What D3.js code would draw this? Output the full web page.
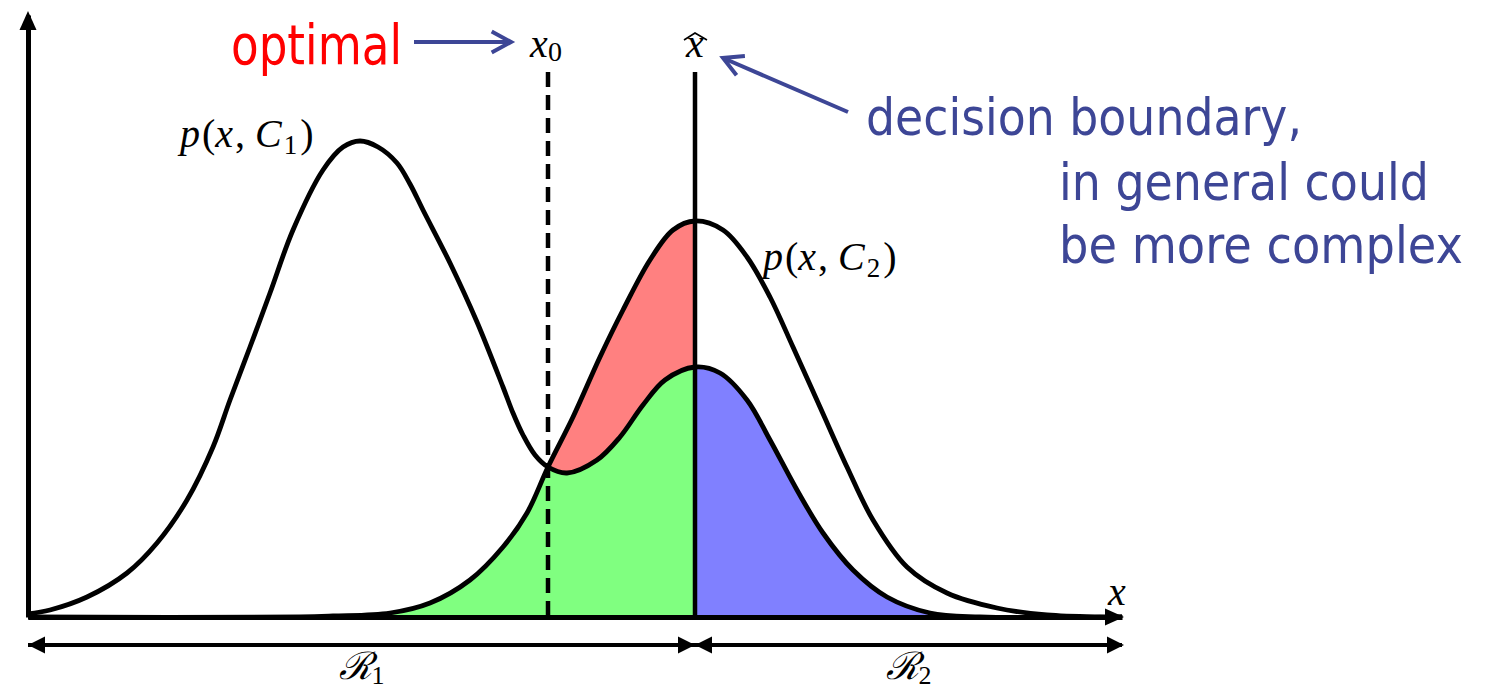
<!DOCTYPE html>
<html>
<head>
<meta charset="utf-8">
<script src="https://cdn.jsdelivr.net/npm/d3@7"></script>
<style>
  body { margin: 0; background: #fff; }
  svg { display: block; }
  .math { font-family: "Liberation Serif", "DejaVu Serif", serif; fill: #000; }
  .note { font-family: "DejaVu Sans", sans-serif; }
</style>
</head>
<body>
<script>

// SVG size
const w = 1485;
const h = 692;

// p(x, C1): samples (x position, density)
const c1X = [0, 0.22, 0.59, 0.99, 1.29, 1.59, 1.85, 2.02, 2.22, 2.42, 2.65, 2.95, 3.15, 3.32,
             3.50, 3.69, 3.82, 3.95, 4.22, 4.49, 4.75, 4.85, 4.95, 5.07, 5.20, 5.39, 5.69, 5.92,
             6.15, 6.37, 6.67, 6.92, 7.19, 7.42, 7.69, 7.95, 8.25, 8.59, 9.02, 9.52, 10.94];
const c1Y = [0.03, 0.07, 0.20, 0.44, 0.74, 1.17, 1.70, 2.17, 2.70, 3.24, 3.87, 4.47, 4.70, 4.76,
             4.70, 4.54, 4.33, 4.07, 3.54, 2.95, 2.30, 2.04, 1.82, 1.62, 1.50, 1.44, 1.57, 1.80,
             2.12, 2.37, 2.50, 2.44, 2.17, 1.77, 1.27, 0.84, 0.47, 0.20, 0.04, 0, 0];

// p(x, C2)
const c2X = [0, 2.72, 3.05, 3.62, 4.02, 4.42, 4.75, 4.99, 5.20, 5.45, 5.72, 5.95, 6.22,
             6.45, 6.67, 6.95, 7.19, 7.42, 7.65, 7.92, 8.19, 8.45, 8.79, 9.19, 9.69, 10.19,
             10.72, 10.94];
const c2Y = [0, 0, 0.01, 0.04, 0.14, 0.37, 0.70, 1.04, 1.50, 2.00, 2.60, 3.07, 3.57,
             3.87, 3.96, 3.87, 3.60, 3.20, 2.70, 2.10, 1.50, 0.97, 0.50, 0.24, 0.09, 0.02,
             0, 0];

// boundaries
const x0Val = 5.20;     // optimal
const xHatVal = 6.67;   // chosen boundary
const xMax = 10.94;
const yMax = 6.02;

const c1 = c1X.map((x, i) => ({ x: x, y: c1Y[i] }));
const c2 = c2X.map((x, i) => ({ x: x, y: c2Y[i] }));

// scales
const xScale = d3.scaleLinear().domain([0, xMax]).range([28, 1122]);
const yScale = d3.scaleLinear().domain([0, yMax]).range([617, 15]);

const svg = d3.select("body")
    .append("svg")
    .attr("width", w)
    .attr("height", h);

const curve = d3.curveCatmullRom.alpha(0.5);

const line = d3.line()
    .x(d => xScale(d.x))
    .y(d => yScale(d.y))
    .curve(curve);

const area = d3.area()
    .x(d => xScale(d.x))
    .y0(yScale(0))
    .y1(d => yScale(d.y))
    .curve(curve);

// clip strips for the coloured regions
const defs = svg.append("defs");
function clip(id, a, b) {
    defs.append("clipPath").attr("id", id)
        .append("rect")
        .attr("x", xScale(a))
        .attr("y", 0)
        .attr("width", xScale(b) - xScale(a))
        .attr("height", yScale(0));
}
clip("clipL", 0, x0Val);
clip("clipM", x0Val, xHatVal);
clip("clipR", xHatVal, xMax);

// red between the curves, green below, blue right of the boundary
svg.append("path").datum(c2).attr("d", area)
    .attr("fill", "#ff8080").attr("clip-path", "url(#clipM)");
svg.append("path").datum(c1).attr("d", area)
    .attr("fill", "#80ff80").attr("clip-path", "url(#clipM)");
svg.append("path").datum(c2).attr("d", area)
    .attr("fill", "#80ff80").attr("clip-path", "url(#clipL)");
svg.append("path").datum(c1).attr("d", area)
    .attr("fill", "#8080ff").attr("clip-path", "url(#clipR)");

// curves
[c1, c2].forEach(c => {
    svg.append("path")
        .datum(c)
        .attr("d", line)
        .attr("fill", "none")
        .attr("stroke", "#000")
        .attr("stroke-width", 4.8);
});

// x0 dashed line and x-hat solid line
const lineTop = 72;
svg.append("line")
    .attr("x1", xScale(x0Val)).attr("x2", xScale(x0Val))
    .attr("y1", lineTop).attr("y2", yScale(0))
    .attr("stroke", "#000")
    .attr("stroke-width", 4.5)
    .attr("stroke-dasharray", "15,8");

svg.append("line")
    .attr("x1", xScale(xHatVal)).attr("x2", xScale(xHatVal))
    .attr("y1", lineTop).attr("y2", yScale(0))
    .attr("stroke", "#000")
    .attr("stroke-width", 4.5);

// axes
const xAxis = svg.append("g")
    .attr("transform", `translate(0, ${yScale(0)})`)
    .call(d3.axisBottom(xScale).ticks(0).tickSizeOuter(0));
const yAxis = svg.append("g")
    .attr("transform", `translate(${xScale(0)}, 0)`)
    .call(d3.axisLeft(yScale).ticks(0).tickSizeOuter(0));
[xAxis, yAxis].forEach(a => a.select(".domain").attr("stroke", "#000").attr("stroke-width", 5));

// arrowheads
function head(x, y, dir, len, half) {
    let p;
    if (dir === "r") p = [[x, y], [x - len, y - half], [x - len, y + half]];
    if (dir === "l") p = [[x, y], [x + len, y - half], [x + len, y + half]];
    if (dir === "u") p = [[x, y], [x - half, y + len], [x + half, y + len]];
    svg.append("path")
        .attr("d", "M" + p.map(q => q.join(",")).join("L") + "Z")
        .attr("fill", "#000");
}
head(xScale(0), 11, "u", 19, 8.5);
head(xScale(xMax) + 2, yScale(0), "r", 19, 8.5);

// region arrows below the axis
const ry = 645;
svg.append("line")
    .attr("x1", xScale(0)).attr("x2", xScale(xMax))
    .attr("y1", ry).attr("y2", ry)
    .attr("stroke", "#000").attr("stroke-width", 4);
head(xScale(0), ry, "l", 17, 8.5);
head(xScale(xHatVal), ry, "r", 17, 8.5);
head(xScale(xHatVal), ry, "l", 17, 8.5);
head(xScale(xMax) + 2, ry, "r", 17, 8.5);

// region labels
function regionLabel(cx, sub) {
    const t = svg.append("text")
        .attr("class", "math")
        .attr("x", cx)
        .attr("y", 679)
        .attr("text-anchor", "middle")
        .attr("font-size", 38);
    t.append("tspan").attr("font-family", "DejaVu Serif").attr("font-style", "italic").text("\u211B");
    t.append("tspan").attr("font-size", 26).attr("dy", 5).text(sub);
}
regionLabel(xScale(xHatVal / 2), "1");
regionLabel(xScale((xHatVal + xMax) / 2), "2");

// p(x, C_k) labels
function pLabel(x, y, sub) {
    const t = svg.append("text")
        .attr("class", "math")
        .attr("x", x)
        .attr("y", y)
        .attr("font-size", 40);
    t.append("tspan").attr("font-style", "italic").text("p");
    t.append("tspan").attr("dx", 2).text("(");
    t.append("tspan").attr("font-style", "italic").text("x");
    t.append("tspan").attr("dx", 2).text(",");
    t.append("tspan").attr("dx", 10).attr("font-style", "italic").text("C");
    t.append("tspan").attr("font-size", 27).attr("dy", 7).attr("dx", 2).text(sub);
    t.append("tspan").attr("dy", -7).attr("dx", 3).text(")");
}
pLabel(180, 147, "1");
pLabel(763, 270, "2");

// axis variable
svg.append("text")
    .attr("class", "math")
    .attr("x", xScale(xMax) - 5)
    .attr("y", 605)
    .attr("text-anchor", "middle")
    .attr("font-size", 40)
    .attr("font-style", "italic")
    .text("x");

// x0 label
const x0Label = svg.append("text")
    .attr("class", "math")
    .attr("x", xScale(x0Val) - 2)
    .attr("y", 57)
    .attr("text-anchor", "middle")
    .attr("font-size", 40);
x0Label.append("tspan").attr("font-style", "italic").text("x");
x0Label.append("tspan").attr("font-size", 28).attr("dy", 4).text("0");

// x-hat label
const hx = xScale(xHatVal);
svg.append("text")
    .attr("class", "math")
    .attr("x", hx)
    .attr("y", 57)
    .attr("text-anchor", "middle")
    .attr("font-size", 40)
    .attr("font-style", "italic")
    .text("x");
svg.append("path")
    .attr("d", `M${hx - 11},40 L${hx},33 L${hx + 12},40`)
    .attr("fill", "none")
    .attr("stroke", "#000")
    .attr("stroke-width", 1.6);

// annotations
const blue = "#3d4696";

function note(text, x, y, size, width, color) {
    svg.append("text")
        .attr("class", "note")
        .attr("x", x)
        .attr("y", y)
        .attr("font-size", size)
        .attr("fill", color)
        .attr("textLength", width)
        .attr("lengthAdjust", "spacingAndGlyphs")
        .text(text);
}
note("optimal", 231, 64, 55, 171, "#ff0000");
note("decision boundary,", 866, 135, 51, 436, blue);
note("in general could", 1059, 200, 51, 370, blue);
note("be more complex", 1059, 263, 51, 404, blue);

function arrow(x1, y1, x2, y2) {
    svg.append("line")
        .attr("x1", x1).attr("y1", y1)
        .attr("x2", x2).attr("y2", y2)
        .attr("stroke", blue).attr("stroke-width", 4);
    const a = Math.atan2(y2 - y1, x2 - x1);
    const len = 22, spread = 0.5;
    const p1 = [x2 - len * Math.cos(a - spread), y2 - len * Math.sin(a - spread)];
    const p2 = [x2 - len * Math.cos(a + spread), y2 - len * Math.sin(a + spread)];
    svg.append("path")
        .attr("d", `M${p1[0]},${p1[1]} L${x2},${y2} L${p2[0]},${p2[1]}`)
        .attr("fill", "none")
        .attr("stroke", blue)
        .attr("stroke-width", 4)
        .attr("stroke-linejoin", "miter");
}
arrow(414, 42, 511, 42);
arrow(848, 112, 723, 58);

</script>
</body>
</html>
